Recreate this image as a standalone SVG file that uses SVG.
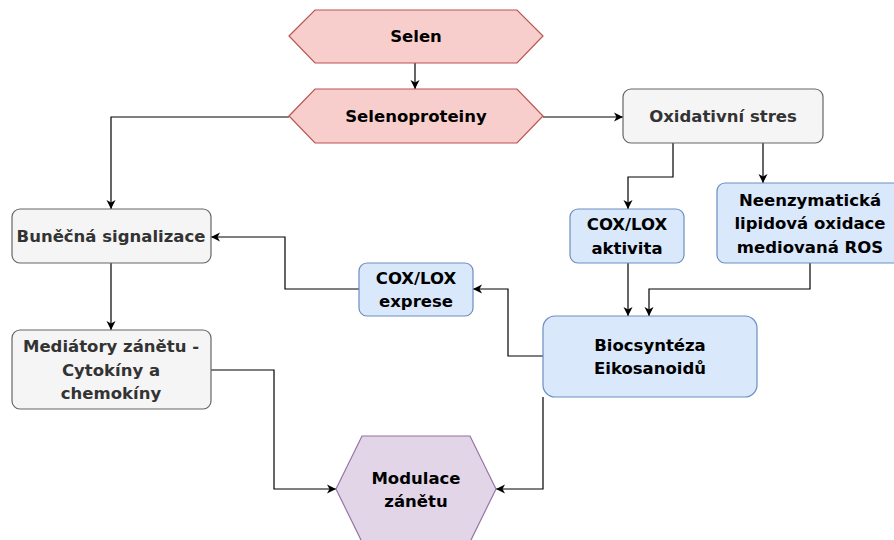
<svg xmlns="http://www.w3.org/2000/svg" width="894" height="540" viewBox="0 0 894 540">
<style>
.pink{fill:#f8cecc;stroke:#b85450;stroke-width:1.2}
.grey{fill:#f5f5f5;stroke:#666666;stroke-width:1.2}
.blue{fill:#dae8fc;stroke:#6c8ebf;stroke-width:1.2}
.purple{fill:#e1d5e7;stroke:#9673a6;stroke-width:1.2}
text{font-family:"DejaVu Sans","Liberation Sans",sans-serif;font-size:16.5px;font-weight:bold;text-anchor:middle;fill:#000}
.g{fill:#333333}
.c{fill:none;stroke:#000;stroke-width:1.2;marker-end:url(#arr)}
</style>
<defs>
<marker id="arr" markerUnits="userSpaceOnUse" markerWidth="10" markerHeight="10" refX="9" refY="5" orient="auto">
<path d="M0,0.5 L9,5 L0,9.5 L2.5,5 z" fill="#000"/>
</marker>
</defs>
<g id="connectors">
<path class="c" d="M415 63 L415 89"/>
<path class="c" d="M289 117 L111 117 L111 209"/>
<path class="c" d="M543 117 L623 117"/>
<path class="c" d="M673 143 L673 177 L628 177 L628 209"/>
<path class="c" d="M763 143 L763 183"/>
<path class="c" d="M111 263 L111 330"/>
<path class="c" d="M628 263 L628 316"/>
<path class="c" d="M810 263 L810 289 L649 289 L649 316"/>
<path class="c" d="M543 356 L508 356 L508 289 L473 289"/>
<path class="c" d="M359 289 L285 289 L285 237 L211 237"/>
<path class="c" d="M211 370 L274 370 L274 489 L336 489"/>
<path class="c" d="M543 397 L543 489 L496 489"/>
</g>
<g id="selen">
<polygon class="pink" points="289,36 315,10 517,10 543,36 517,63 315,63"/>
<text x="416" y="42">Selen</text>
</g>
<g id="selenoproteiny">
<polygon class="pink" points="289,116 315,89 517,89 543,116 517,143 315,143"/>
<text x="416" y="122">Selenoproteiny</text>
</g>
<g id="oxidativni-stres">
<rect class="grey" x="623" y="89" width="200" height="54" rx="8"/>
<text class="g" x="723" y="122">Oxidativní stres</text>
</g>
<g id="bunecna-signalizace">
<rect class="grey" x="12" y="209" width="199" height="54" rx="8"/>
<text class="g" x="111" y="242">Buněčná signalizace</text>
</g>
<g id="mediatory">
<rect class="grey" x="12" y="330" width="199" height="79" rx="8"/>
<text class="g" x="111" y="352">Mediátory zánětu -</text>
<text class="g" x="111" y="375.5">Cytokíny a</text>
<text class="g" x="111" y="399">chemokíny</text>
</g>
<g id="cox-lox-aktivita">
<rect class="blue" x="570" y="209" width="114" height="54" rx="8"/>
<text x="627" y="230">COX/LOX</text>
<text x="627" y="254">aktivita</text>
</g>
<g id="neenzymaticka">
<rect class="blue" x="717" y="183" width="190" height="80" rx="8"/>
<text x="810" y="205.5">Neenzymatická</text>
<text x="810" y="229">lipidová oxidace</text>
<text x="810" y="252.5">mediovaná ROS</text>
</g>
<g id="cox-lox-exprese">
<rect class="blue" x="359" y="263" width="114" height="53" rx="8"/>
<text x="416" y="284">COX/LOX</text>
<text x="416" y="307">exprese</text>
</g>
<g id="biocynteza">
<rect class="blue" x="543" y="316" width="214" height="81" rx="12"/>
<text x="650" y="351">Biocsyntéza</text>
<text x="650" y="374">Eikosanoidů</text>
</g>
<g id="modulace">
<polygon class="purple" points="336,489 362,436 470,436 496,489 470,542 362,542"/>
<text x="416" y="483.5">Modulace</text>
<text x="416" y="507">zánětu</text>
</g>
</svg>
